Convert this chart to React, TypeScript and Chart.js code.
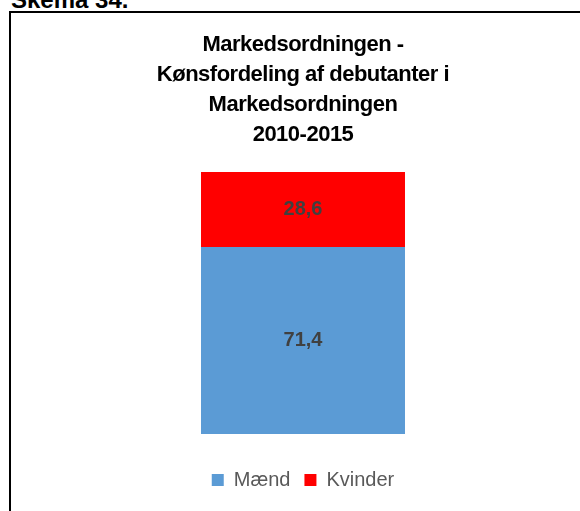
import React, { useEffect, useRef } from "react";
import { Chart, registerables } from "chart.js";

Chart.register(...registerables);

const categories: string[] = ["2010-2015"];
const seriesNames: string[] = ["Mænd", "Kvinder"];
const maendValues: number[] = [71.4];
const kvinderValues: number[] = [28.6];
const seriesColors: string[] = ["#5B9BD5", "#FF0000"];
const titleLines: string[] = [
  "Markedsordningen -",
  "Kønsfordeling af debutanter i",
  "Markedsordningen",
  "2010-2015",
];
const headingText = "Skema 34.";
const yMin = 0;
const yMax = 100;

const FONT = "'Liberation Sans', Arial, sans-serif";

const valueLabelPlugin = {
  id: "valueLabels",
  afterDatasetsDraw(chart: any) {
    const ctx = chart.ctx;
    ctx.save();
    ctx.font = `bold 20px ${FONT}`;
    ctx.fillStyle = "#404040";
    ctx.textAlign = "center";
    ctx.textBaseline = "middle";
    chart.data.datasets.forEach((ds: any, di: number) => {
      const meta = chart.getDatasetMeta(di);
      if (meta.hidden) return;
      meta.data.forEach((el: any, i: number) => {
        const v = ds.data[i];
        const { x, y, base } = el.getProps(["x", "y", "base"], true);
        ctx.fillText(v.toFixed(1).replace(".", ","), x, (y + base) / 2);
      });
    });
    ctx.restore();
  },
};

const tightTitlePlugin = {
  id: "tightTitle",
  beforeDraw(chart: any) {
    const tb = chart.titleBlock;
    if (tb && !tb._tightPatched) {
      const orig = tb.draw.bind(tb);
      tb.draw = function (...args: any[]) {
        const ctx = chart.ctx;
        const prev = ctx.letterSpacing;
        ctx.letterSpacing = "-0.5px";
        orig(...args);
        ctx.letterSpacing = prev || "0px";
      };
      tb._tightPatched = true;
    }
  },
};

export default function App() {
  const canvasRef = useRef<HTMLCanvasElement | null>(null);

  useEffect(() => {
    if (!canvasRef.current) return;
    const chart = new Chart(canvasRef.current, {
      type: "bar",
      data: {
        labels: categories,
        datasets: [
          {
            label: seriesNames[0],
            data: maendValues,
            backgroundColor: seriesColors[0],
            borderWidth: 0,
            barPercentage: 1,
            categoryPercentage: 0.3493,
          },
          {
            label: seriesNames[1],
            data: kvinderValues,
            backgroundColor: seriesColors[1],
            borderWidth: 0,
            barPercentage: 1,
            categoryPercentage: 0.3493,
          },
        ],
      },
      options: {
        responsive: false,
        animation: false,
        devicePixelRatio: 1,
        layout: { padding: 0 },
        scales: {
          x: {
            stacked: true,
            display: true,
            grid: { display: false, drawTicks: true, tickLength: 22 },
            border: { display: false },
            ticks: { display: false },
          },
          y: {
            stacked: true,
            display: false,
            min: yMin,
            max: yMax,
          },
        },
        plugins: {
          title: {
            display: true,
            text: titleLines,
            color: "#000000",
            font: { family: FONT, size: 22, weight: "bold", lineHeight: "30px" },
            padding: { top: 17, bottom: 22 },
          },
          legend: {
            display: true,
            position: "bottom",
            labels: {
              color: "#595959",
              font: { family: FONT, size: 20 },
              boxWidth: 12,
              boxHeight: 12,
              padding: 14,
            },
          },
          tooltip: { enabled: false },
        },
      },
      plugins: [tightTitlePlugin, valueLabelPlugin],
    });
    return () => chart.destroy();
  }, []);

  return (
    <div
      style={{
        position: "fixed",
        left: 0,
        top: 0,
        width: 580,
        height: 511,
        overflow: "hidden",
        background: "#ffffff",
      }}
    >
      <div
        style={{
          position: "absolute",
          left: 11,
          top: -12,
          fontFamily: FONT,
          fontWeight: "bold",
          fontSize: 24,
          lineHeight: "24px",
          color: "#000",
          whiteSpace: "nowrap",
        }}
      >
        {headingText}
      </div>
      <div
        style={{
          position: "absolute",
          left: 9,
          top: 11,
          width: 620,
          height: 560,
          border: "2px solid #000",
          background: "#fff",
        }}
      >
        <canvas
          ref={canvasRef}
          width={584}
          height={487}
          style={{ position: "absolute", left: 0, top: 0, width: 584, height: 487 }}
        />
      </div>
    </div>
  );
}
